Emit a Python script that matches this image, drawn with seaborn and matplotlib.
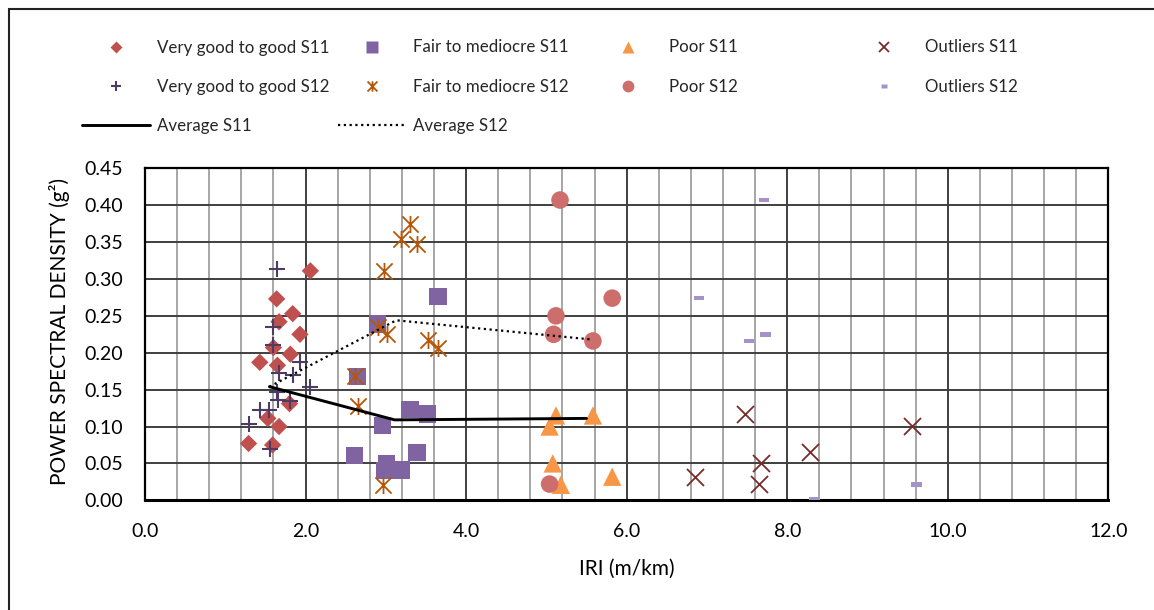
import numpy as np
import pandas as pd
import matplotlib
matplotlib.use("Agg")
import matplotlib.pyplot as plt
import seaborn as sns
from matplotlib.path import Path
from matplotlib.lines import Line2D
from matplotlib.patches import Rectangle
from matplotlib.ticker import MultipleLocator, FormatStrFormatter

# ---------------- data ----------------
vg11_x = [2.06, 1.64, 1.84, 1.67, 1.93, 1.60, 1.81, 1.43, 1.65, 1.80, 1.53, 1.67, 1.29, 1.59]
vg11_y = [0.311, 0.273, 0.253, 0.242, 0.225, 0.207, 0.198, 0.187, 0.183, 0.131, 0.111, 0.100, 0.077, 0.075]

fm11_x = [3.65, 2.90, 2.65, 3.30, 3.52, 2.96, 2.61, 3.39, 3.01, 2.98, 3.19]
fm11_y = [0.276, 0.239, 0.168, 0.123, 0.117, 0.101, 0.061, 0.065, 0.050, 0.040, 0.041]

poor11_x = [5.12, 5.58, 5.04, 5.08, 5.18, 5.82]
poor11_y = [0.115, 0.115, 0.100, 0.050, 0.021, 0.032]

out11_x = [7.47, 9.56, 8.29, 7.67, 6.85, 7.65]
out11_y = [0.117, 0.101, 0.066, 0.050, 0.032, 0.022]

vg12_x = [1.64, 1.60, 1.59, 1.93, 1.67, 1.84, 2.06, 1.64, 1.66, 1.81, 1.43, 1.54, 1.29, 1.56]
vg12_y = [0.313, 0.235, 0.210, 0.188, 0.173, 0.170, 0.153, 0.147, 0.136, 0.134, 0.122, 0.122, 0.104, 0.070]

fm12_x = [3.30, 3.19, 3.39, 2.98, 2.90, 3.01, 3.52, 3.65, 2.61, 2.65, 2.96]
fm12_y = [0.375, 0.354, 0.347, 0.311, 0.235, 0.225, 0.217, 0.207, 0.168, 0.128, 0.021]

poor12_x = [5.17, 5.82, 5.12, 5.09, 5.58, 5.04]
poor12_y = [0.407, 0.274, 0.250, 0.225, 0.216, 0.022]

out12_x = [7.71, 6.90, 7.73, 7.52, 9.61, 8.34]
out12_y = [0.407, 0.274, 0.225, 0.216, 0.021, 0.001]

avg11_x = [1.55, 3.11, 5.50]
avg11_y = [0.154, 0.109, 0.111]

avg12_x = [1.55, 3.13, 5.56]
avg12_y = [0.154, 0.244, 0.218]

x_ticks = [0, 2, 4, 6, 8, 10, 12]
y_ticks = [0.00, 0.05, 0.10, 0.15, 0.20, 0.25, 0.30, 0.35, 0.40, 0.45]

# ---------------- style ----------------
sns.set_style("white")
plt.rcParams['font.family'] = ['Lato', 'DejaVu Sans']

W, H = 1154, 610
fig = plt.figure(figsize=(W / 100, H / 100), dpi=100)
L, R, T, B = 145, 1108.3, 168.3, 500.3
ax = fig.add_axes([L / W, 1 - B / H, (R - L) / W, (B - T) / H])

star = Path([(-1, -1), (1, 1), (-1, 1), (1, -1), (0, -1.05), (0, 1.05)],
            [Path.MOVETO, Path.LINETO] * 3)
dash = Path([(-1, -0.45), (1, -0.45), (1, 0.45), (-1, 0.45), (-1, -0.45)],
            [Path.MOVETO, Path.LINETO, Path.LINETO, Path.LINETO, Path.CLOSEPOLY])

C_VG11 = "#C0504D"
C_FM11 = "#8064A2"
C_P11 = "#F79646"
C_O11 = "#772C2A"
C_VG12 = "#4D3B66"
C_FM12 = "#B65708"
C_P12 = "#CD6E6C"
C_O12 = "#A592C8"

series = [
    # label, x, y, marker, s, color, filled, lw, legend ms
    ("Very good to good S11", vg11_x, vg11_y, "D", 78, C_VG11, True, 0, 6.0),
    ("Fair to mediocre S11", fm11_x, fm11_y, "s", 155, C_FM11, True, 0, 8.0),
    ("Poor S11", poor11_x, poor11_y, "^", 175, C_P11, True, 0, 8.5),
    ("Outliers S11", out11_x, out11_y, "x", 150, C_O11, False, 1.3, 7.5),
    ("Very good to good S12", vg12_x, vg12_y, "+", 130, C_VG12, False, 1.5, 7.0),
    ("Fair to mediocre S12", fm12_x, fm12_y, star, 150, C_FM12, False, 1.3, 7.5),
    ("Poor S12", poor12_x, poor12_y, "o", 160, C_P12, True, 0, 8.5),
    ("Outliers S12", out12_x, out12_y, dash, 55, C_O12, True, 0, 5.0),
]

handles = {}
for lab, xs, ys, mk, s, c, filled, lw, lms in series:
    df = pd.DataFrame({"x": xs, "y": ys})
    if filled:
        sns.scatterplot(data=df, x="x", y="y", ax=ax, marker=mk, s=s, color=c,
                        edgecolor="none", linewidth=0, zorder=3, legend=False)
        handles[lab] = Line2D([], [], ls="none", marker=mk, markersize=lms,
                              markerfacecolor=c, markeredgecolor="none")
    else:
        sns.scatterplot(data=df, x="x", y="y", ax=ax, marker=mk, s=s, color=c,
                        edgecolor=c, linewidth=lw, zorder=3, legend=False)
        handles[lab] = Line2D([], [], ls="none", marker=mk, markersize=lms,
                              markerfacecolor=c, markeredgecolor=c,
                              markeredgewidth=lw)

d11 = pd.DataFrame({"x": avg11_x, "y": avg11_y})
d12 = pd.DataFrame({"x": avg12_x, "y": avg12_y})
sns.lineplot(data=d11, x="x", y="y", ax=ax, sort=False, estimator=None,
             color="black", linewidth=2.1, zorder=4)
sns.lineplot(data=d12, x="x", y="y", ax=ax, sort=False, estimator=None,
             color="black", linewidth=1.6, linestyle=(0, (1, 1.6)),
             zorder=4)
handles["Average S11"] = Line2D([], [], color="black", linewidth=2.1)
handles["Average S12"] = Line2D([], [], color="black", linewidth=1.6,
                                linestyle=(0, (1, 1.6)))

# ---------------- axes ----------------
ax.set_xlim(0, 12)
ax.set_ylim(0, 0.45)
ax.set_xticks(x_ticks)
ax.set_yticks(y_ticks)
ax.xaxis.set_major_formatter(FormatStrFormatter("%.1f"))
ax.yaxis.set_major_formatter(FormatStrFormatter("%.2f"))
ax.xaxis.set_minor_locator(MultipleLocator(0.4))
ax.set_axisbelow(True)
ax.grid(which="minor", axis="x", color="#a6a6a6", linewidth=1.4)
ax.grid(which="major", axis="both", color="#3f3f3f", linewidth=1.4)
ax.tick_params(which="both", length=0, labelsize=14, colors="black")
ax.tick_params(axis="y", pad=16)
ax.tick_params(axis="x", pad=16)
for side in ["left", "top", "right"]:
    ax.spines[side].set_color("black")
    ax.spines[side].set_linewidth(1.6)
    ax.spines[side].set_visible(True)
ax.spines["bottom"].set_color("black")
ax.spines["bottom"].set_linewidth(2.2)
ax.spines["bottom"].set_visible(True)

ax.set_xlabel("IRI (m/km)", fontsize=15, color="black")
ax.set_ylabel("POWER SPECTRAL DENSITY (g\u00b2)", fontsize=15, color="black")
ax.xaxis.label.set_va("center")
ax.yaxis.label.set_va("center")
ax.xaxis.set_label_coords((627 - L) / (R - L), (B - 569) / (B - T))
ax.yaxis.set_label_coords((60 - L) / (R - L), (B - 331) / (B - T))

# ---------------- legend ----------------
fs = 12.2
fs_px = fs * 100 / 72
cols = [
    ["Very good to good S11", "Very good to good S12", "Average S11"],
    ["Fair to mediocre S11", "Fair to mediocre S12", "Average S12"],
    ["Poor S11", "Poor S12"],
    ["Outliers S11", "Outliers S12"],
]
for i, col in enumerate(cols):
    lx = 82 + 256 * i
    fig.legend([handles[k] for k in col], col, loc="upper left",
               bbox_to_anchor=(lx / W, 1 - 39.5 / H), frameon=False,
               borderpad=0, borderaxespad=0, fontsize=fs,
               handlelength=68 / fs_px, handletextpad=7 / fs_px,
               labelspacing=1.37)

# figure frame (left / top edges)
fig.add_artist(Rectangle((9 / W, -0.1), 2, 1.1 - 9 / H, transform=fig.transFigure,
                         fill=False, edgecolor="#222222", linewidth=1.5))

fig.savefig("out.png", dpi=100)
